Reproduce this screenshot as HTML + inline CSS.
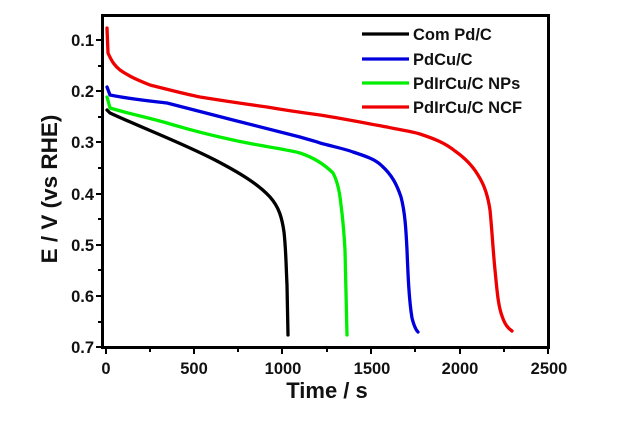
<!DOCTYPE html>
<html><head><style>
html,body{margin:0;padding:0;background:#fff;}
svg text{font-family:"Liberation Sans",Arial,sans-serif;font-weight:bold;fill:#111;}
</style></head><body>
<svg width="643" height="424" viewBox="0 0 643 424" xmlns="http://www.w3.org/2000/svg">
<rect width="643" height="424" fill="#fff"/>
<g fill="none" stroke-width="3.3" stroke-linejoin="round" stroke-linecap="round">
<path stroke="#000" d="M107,110 L110,113 C140,127 180,142 215,160 C240,173 258,184 270,197 C279,207 282,218 284,232 C286,250 286,265 287,285 L288,335"/>
<path stroke="#00ee00" d="M107,97 L110,108 C130,114 150,118 167,123 C190,130 210,135 233,140 C260,146 290,150 300,153 C315,158 325,165 333,173 C338,182 340,195 341,205 C343,220 344,233 345,250 L347,335"/>
<path stroke="#0000dd" d="M107,87 L110,95 C130,99 150,101 167,103 C190,109 210,114 233,120 C260,127 285,133 300,137 C310,140 315,141 320,143 C335,147 345,149 353,152 C365,156 375,159 382,166 C392,175 397,185 401,197 C405,212 406,230 407,250 C408,275 409,300 412,318 C414,326 416,330 418,332"/>
<path stroke="#ee0000" d="M107,28 L108,53 C112,62 115,66 120,70 C130,77 140,81 150,85 C170,90 185,94 200,97 C225,101 245,104 267,107 C290,111 305,113 320,115 C345,119 365,123 387,127 C400,130 410,131 420,134 C435,139 445,143 455,151 C465,158 472,165 478,175 C485,186 488,197 490,210 C492,230 493,250 495,270 C497,290 498,305 502,316 C505,325 508,328 512,331"/>
</g>
<rect x="102.5" y="15.5" width="446" height="332" fill="none" stroke="#000" stroke-width="3"/>
<g stroke="#000" stroke-width="2">
<line x1="106" y1="348" x2="106" y2="354"/><line x1="194" y1="348" x2="194" y2="354"/><line x1="282" y1="348" x2="282" y2="354"/><line x1="371" y1="348" x2="371" y2="354"/><line x1="460" y1="348" x2="460" y2="354"/><line x1="548" y1="348" x2="548" y2="354"/>
<line x1="150" y1="348" x2="150" y2="352"/><line x1="238" y1="348" x2="238" y2="352"/><line x1="327" y1="348" x2="327" y2="352"/><line x1="415" y1="348" x2="415" y2="352"/><line x1="504" y1="348" x2="504" y2="352"/>
<line x1="96" y1="40" x2="102" y2="40"/><line x1="96" y1="91" x2="102" y2="91"/><line x1="96" y1="142" x2="102" y2="142"/><line x1="96" y1="194" x2="102" y2="194"/><line x1="96" y1="245" x2="102" y2="245"/><line x1="96" y1="296" x2="102" y2="296"/><line x1="96" y1="347" x2="102" y2="347"/>
<line x1="98" y1="66" x2="102" y2="66"/><line x1="98" y1="117" x2="102" y2="117"/><line x1="98" y1="168" x2="102" y2="168"/><line x1="98" y1="219" x2="102" y2="219"/><line x1="98" y1="270" x2="102" y2="270"/><line x1="98" y1="322" x2="102" y2="322"/>
</g>
<g font-size="16.5" text-anchor="end">
<text x="94" y="46">0.1</text><text x="94" y="97">0.2</text><text x="94" y="148">0.3</text><text x="94" y="200">0.4</text><text x="94" y="251">0.5</text><text x="94" y="302">0.6</text><text x="94" y="353">0.7</text>
</g>
<g font-size="16.5" text-anchor="middle">
<text x="106" y="374">0</text><text x="194" y="374">500</text><text x="283" y="374">1000</text><text x="372" y="374">1500</text><text x="460" y="374">2000</text><text x="549" y="374">2500</text>
</g>
<text x="327" y="398" font-size="22" text-anchor="middle">Time / s</text>
<text transform="translate(57,189) rotate(-90)" font-size="22.5" text-anchor="middle">E / V (vs RHE)</text>
<g stroke-width="3.3">
<line x1="362" y1="34" x2="409" y2="34" stroke="#000"/>
<line x1="362" y1="59" x2="409" y2="59" stroke="#0000dd"/>
<line x1="362" y1="83" x2="409" y2="83" stroke="#00ee00"/>
<line x1="362" y1="107" x2="409" y2="107" stroke="#ee0000"/>
</g>
<g font-size="16.5">
<text x="413" y="40">Com Pd/C</text>
<text x="413" y="65">PdCu/C</text>
<text x="413" y="89">PdIrCu/C NPs</text>
<text x="413" y="113">PdIrCu/C NCF</text>
</g>
</svg>
</body></html>
